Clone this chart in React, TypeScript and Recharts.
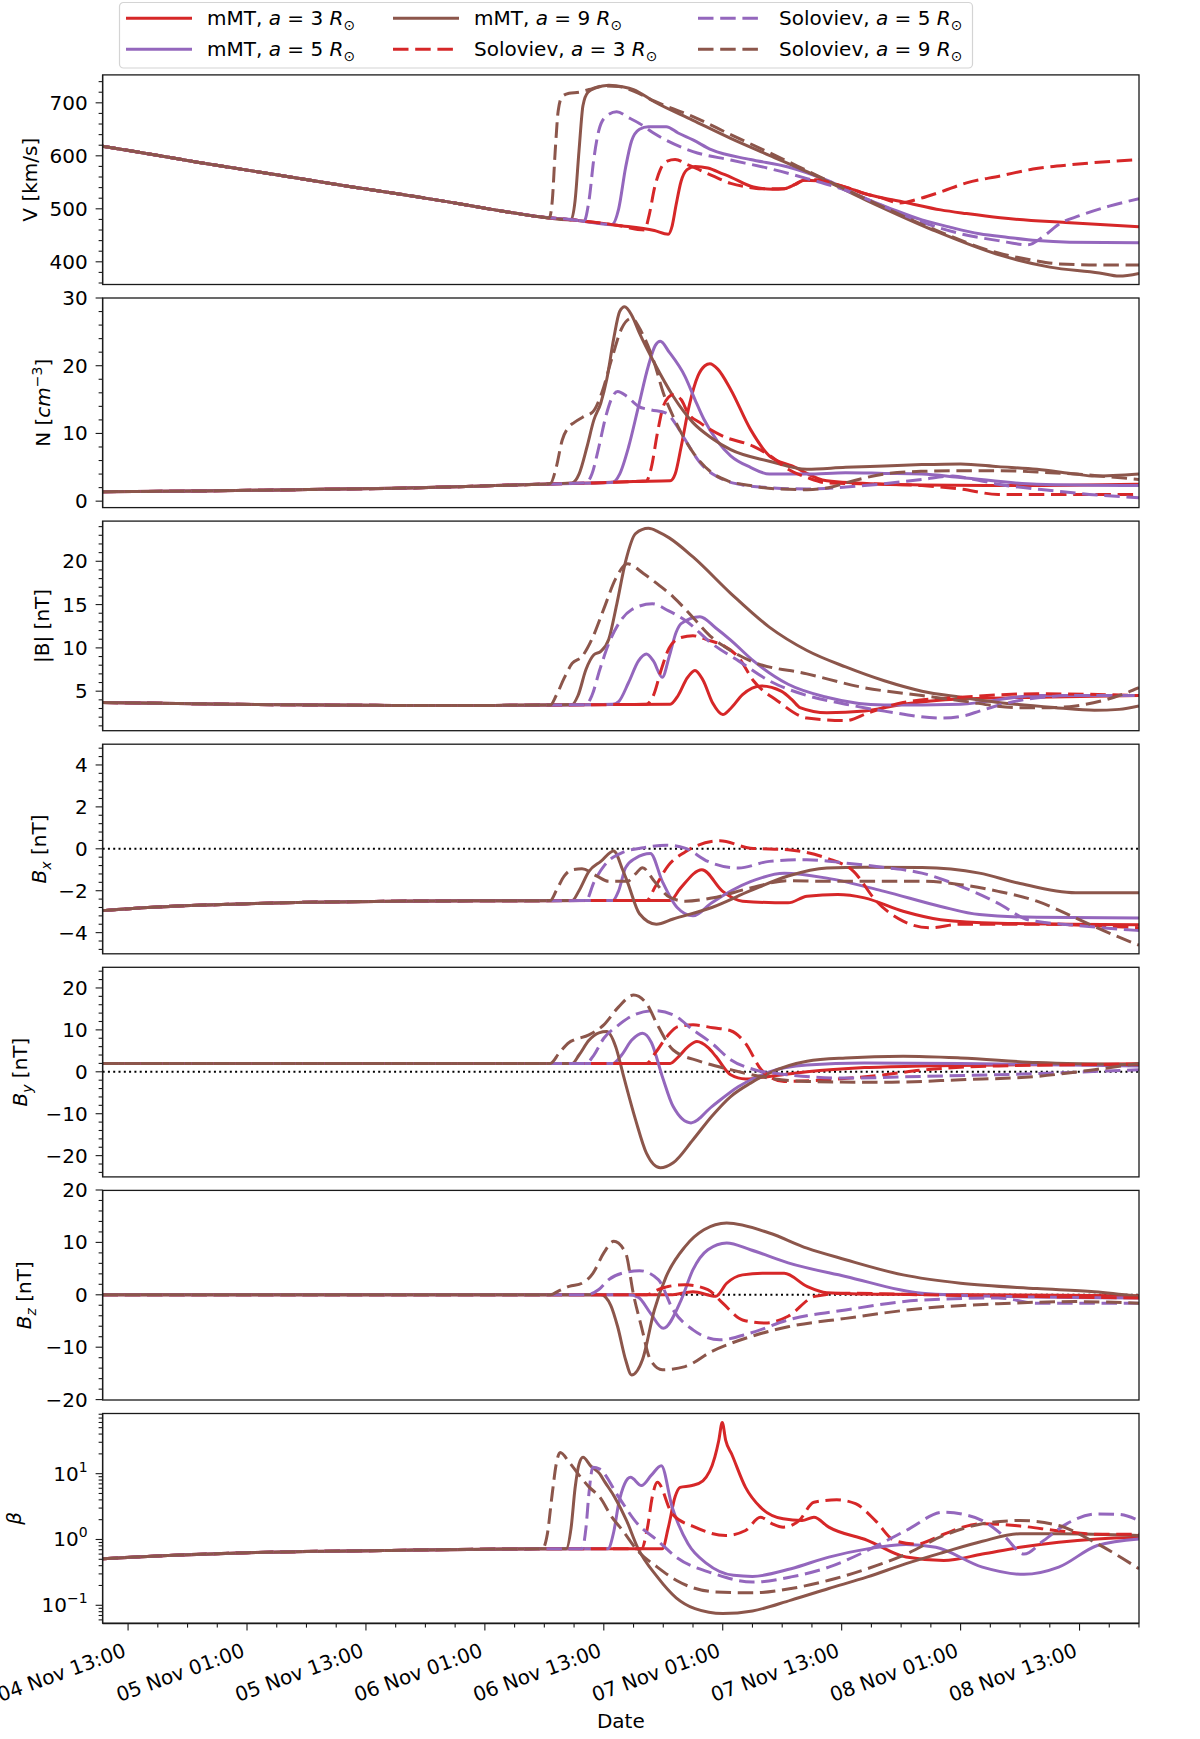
import React from 'react';
import { LineChart, Line, XAxis, YAxis, ReferenceLine } from 'recharts';

type Pt = [number, number];

const RED = '#d62728';
const PURPLE = '#9467bd';
const BROWN = '#8c564b';
const INK = '#1a1a1a';
const FONT = '"DejaVu Sans", Verdana, sans-serif';

// time axis in hours since 04 Nov 00:00
const T_START = 10.43;
const T_END = 115;
const X_MAJOR = [13, 25, 37, 49, 61, 73, 85, 97, 109];
const X_LABELS = [
  '04 Nov 13:00', '05 Nov 01:00', '05 Nov 13:00', '06 Nov 01:00', '06 Nov 13:00',
  '07 Nov 01:00', '07 Nov 13:00', '08 Nov 01:00', '08 Nov 13:00',
];

const SERIES = [
  { id: 'mmt3', model: 'mMT', a: '3', color: RED, dashed: false },
  { id: 'mmt5', model: 'mMT', a: '5', color: PURPLE, dashed: false },
  { id: 'mmt9', model: 'mMT', a: '9', color: BROWN, dashed: false },
  { id: 'sol3', model: 'Soloviev', a: '3', color: RED, dashed: true },
  { id: 'sol5', model: 'Soloviev', a: '5', color: PURPLE, dashed: true },
  { id: 'sol9', model: 'Soloviev', a: '9', color: BROWN, dashed: true },
];

// ---- V [km/s]
const V_UP: Pt[] = [[10.43,618],[15,604],[20,588],[25,573],[30,558],[35,543],[40,529],[45,514],[50,498],[54.5,485],[58.4,478],[62.3,469],[66.1,459],[67.5,452]];
const V_MMT3: Pt[] = [[67.5,452],[67.9,468],[68.3,508],[68.8,552],[69.4,574],[70.2,580],[71.5,577],[73,566],[73.8,560],[76.1,541],[78,537],[79.2,538],[80.3,546],[81.2,554],[82.5,553],[85.4,541],[87.3,529],[89.3,520],[91.2,513],[95,498],[97.6,491],[101,483],[107.6,474],[115,466]];
const V_MMT5: Pt[] = [[61.8,470],[62.5,500],[63.2,578],[63.8,628],[64.6,650],[65.5,655],[67.3,655],[68.5,643],[70,630],[71.9,611],[75.8,593],[79.6,579],[83.5,554],[87.3,520],[90,500],[93.1,479],[96,465],[98.9,453],[101.8,446],[104.7,440],[108,437],[115,436]];
const V_MMT9: Pt[] = [[57.7,479],[58.1,515],[58.5,610],[58.9,695],[59.4,720],[60.2,728],[61.5,733],[63,730],[64,725],[66.1,702],[70,667],[73.8,633],[77.7,601],[81.5,570],[87.5,516],[94.2,460],[100.9,413],[106,390],[111,379],[113,373],[115,378]];
const V_SOL3: Pt[] = [[65.1,460],[65.6,490],[66.1,538],[66.7,574],[67.4,590],[68.2,593],[69.5,583],[70.7,573],[72,562],[73.8,548],[75.5,541],[76.9,538],[79.2,538],[80.3,546],[81.2,554],[82.5,555],[83.5,551],[85.4,541],[87.3,529],[89.3,519],[90.8,511],[93,520],[95,532],[97.6,549],[101,562],[104.3,575],[108.6,584],[115,593]];
const V_SOL5: Pt[] = [[59,476],[59.5,515],[60,595],[60.5,648],[61.2,674],[62.3,683],[63.5,672],[64.6,661],[66.1,642],[70,608],[73.8,592],[77.7,576],[81.5,557],[85.4,535],[89.3,504],[93.1,475],[97,453],[100.8,440],[103.8,432],[105.5,450],[107,472],[109,487],[112,505],[115,519]];
const V_SOL9: Pt[] = [[55.5,483],[55.8,515],[56.1,610],[56.4,685],[56.8,712],[57.5,718],[58.5,720],[59.5,725],[61,732],[62.5,731],[64,722],[66,704],[70,674],[73.8,640],[77.7,606],[81.5,572],[87.5,518],[94.2,462],[100.9,416],[104,404],[107,396],[111,394],[115,394]];

// ---- N [cm^-3]
const N_UP: Pt[] = [[10.43,1.4],[20,1.5],[30,1.7],[40,1.9],[50,2.3],[54.5,2.5],[60,2.7],[64,2.9],[67.7,3.0]];
const N_MMT3: Pt[] = [[67.7,3.0],[68.2,4],[68.8,8],[69.6,14],[70.5,18.5],[71.2,20],[71.7,20.3],[72.5,19.5],[73.8,16.5],[75.8,10.6],[77.7,6.7],[80,5.2],[83.5,3.0],[89.3,2.5],[93.1,2.4],[100.8,2.3],[115,2.5]];
const N_MMT5: Pt[] = [[61.9,2.8],[62.6,4],[63.5,8],[64.5,14],[65.5,20],[66.2,23],[66.7,23.6],[67.6,22],[69.2,18.4],[70.2,15],[71.1,12.1],[72.5,8.8],[73.8,6.7],[75.8,5],[77.7,4.0],[81.5,4.0],[85.4,4.2],[89.3,4.1],[93.1,4.0],[97,3.5],[104.7,2.5],[115,2.3]];
const N_MMT9: Pt[] = [[57.8,2.7],[58.5,4],[59.3,8],[60,12],[60.7,14.5],[61.3,18],[62,24],[62.6,28],[63.1,28.7],[63.8,27.5],[64.6,24.8],[66.1,20.4],[68,15.5],[70,11.6],[71.9,9.3],[73.8,7.6],[77.7,5.9],[81.5,4.7],[85.4,5.0],[89.3,5.2],[93.1,5.4],[97,5.5],[100.8,5.1],[104.7,4.7],[108.6,4.0],[110.5,3.7],[115,4.0]];
const N_SOL3: Pt[] = [[65.3,3.0],[65.8,5],[66.4,10],[67,14],[67.5,15.3],[68,15.7],[68.8,15],[69.5,13],[70.7,11.6],[73,9.6],[76.1,8.1],[78,6.5],[79.6,4.7],[81.5,3.5],[83.5,2.7],[89.3,2.5],[93.1,2.3],[97,1.8],[100.8,1.0],[115,1.0]];
const N_SOL5: Pt[] = [[59.2,2.7],[59.8,4],[60.5,8],[61.2,12.5],[61.8,15.2],[62.4,16.2],[63.3,15.5],[64.5,14],[65.7,13.5],[67.3,13],[68.2,11.5],[69.2,9.1],[70.7,5.7],[73,3.2],[75,2.4],[77.7,2.0],[81.5,1.8],[87.3,2.3],[93.1,3.2],[96.2,3.7],[98,3.3],[100.8,2.5],[106.6,1.5],[110,1.0],[115,0.5]];
const N_SOL9: Pt[] = [[55.6,2.6],[56.2,5],[56.8,9],[57.5,11],[58,11.6],[59,12.5],[59.9,13.2],[60.8,16],[61.8,21],[62.8,25.5],[63.8,27],[64.8,25],[66.1,20.4],[67,16],[68,12.5],[70,7.2],[71.9,4.2],[73.5,3],[75.8,2.3],[78.5,1.8],[81.5,1.7],[84,2.1],[85.4,2.7],[89.3,4.0],[93,4.4],[97,4.5],[101,4.5],[104.7,4.3],[108.6,4.0],[112,3.6],[115,3.2]];

// ---- |B| [nT]
const B_UP: Pt[] = [[10.43,3.7],[20,3.55],[30,3.42],[40,3.36],[50,3.36],[55,3.4],[62,3.45],[67.7,3.5]];
const B_MMT3: Pt[] = [[67.7,3.5],[68.5,4.5],[69.4,6.5],[70.2,7.4],[71,6.3],[72,3.6],[73,2.3],[73.8,3.0],[75,4.6],[76.9,5.6],[78.9,5.0],[80,4.0],[80.8,3.1],[83.5,2.5],[87.3,2.7],[91.2,3.5],[97,4.1],[104.7,4.3],[115,4.5]];
const B_MMT5: Pt[] = [[61.9,3.5],[62.5,3.8],[63.5,6],[64.5,8.5],[65.3,9.3],[66,8.5],[66.9,6.6],[67.6,9],[68.3,11.8],[68.8,12.8],[70.7,13.6],[72.3,12.3],[73.8,10.9],[76.1,8.5],[79.6,5.8],[83.5,4.3],[89.3,3.4],[97,3.5],[104.7,4.5],[115,4.5]];
const B_MMT9: Pt[] = [[57.8,3.45],[58.4,4.5],[59.2,7.5],[60,9.2],[60.7,9.6],[61.5,11],[62.3,15],[63.2,20],[64.2,23.2],[65.5,23.8],[66.5,23.4],[67.6,22.7],[70,20.5],[73.8,16.3],[77.7,12.4],[81.5,9.7],[85.4,7.8],[89.3,6.2],[93.1,5.0],[97,4.3],[100.8,3.7],[106.6,3.1],[110.5,2.8],[113,2.9],[115,3.3]];
const B_SOL3: Pt[] = [[65.3,3.5],[66,4.5],[66.8,7.5],[67.6,10],[68.8,11.2],[70,11.4],[71.5,10.9],[73,10.3],[74.6,8.9],[76.1,6.2],[78.5,3.9],[81.5,1.9],[85.4,1.6],[87.7,2.5],[91.2,3.7],[97,4.3],[104.7,4.7],[115,4.5]];
const B_SOL5: Pt[] = [[59.2,3.45],[59.8,4.5],[60.6,7.5],[61.5,10.5],[62.5,12.8],[63.8,14.4],[65.9,15.1],[67.5,14.3],[69.2,13.2],[71.9,10.5],[74.6,8.5],[77.7,6.2],[81.5,4.5],[85.4,3.5],[89.3,2.7],[95,1.9],[97.5,2.2],[98.9,2.7],[102.8,3.9],[108.6,4.5],[115,4.5]];
const B_SOL9: Pt[] = [[55.6,3.4],[56.2,4.5],[57,6.5],[57.8,8.2],[58.8,9.0],[59.8,11],[61,14.5],[62.2,18],[63.4,19.7],[65,18.6],[66.5,17.3],[68,15.9],[70,13.5],[71.9,11.2],[73.8,9.7],[75.8,8.5],[81.5,7.0],[87.3,5.4],[93.1,4.5],[97,3.9],[102.8,3.1],[106,3.1],[108.6,3.3],[112.5,4.3],[115,5.4]];

// ---- Bx [nT]
const BX_UP: Pt[] = [[10.43,-2.95],[15,-2.8],[20,-2.69],[25,-2.62],[30,-2.56],[40,-2.5],[50,-2.48],[60,-2.47],[67.7,-2.47]];
const BX_MMT3: Pt[] = [[67.7,-2.47],[68.7,-1.9],[70.9,-1.0],[73,-2.03],[75,-2.5],[79.6,-2.58],[81.5,-2.26],[84.6,-2.18],[87.3,-2.34],[91.2,-2.98],[95,-3.38],[100.8,-3.55],[115,-3.62]];
const BX_MMT5: Pt[] = [[61.9,-2.47],[62.5,-2.0],[63.2,-0.9],[64.2,-0.45],[65.7,-0.22],[66.9,-1.55],[68.4,-2.8],[70,-3.2],[71.9,-2.57],[75.8,-1.57],[79.2,-1.17],[83.5,-1.4],[89.3,-2.03],[95,-2.75],[98.9,-3.14],[104.7,-3.27],[115,-3.3]];
const BX_MMT9: Pt[] = [[57.8,-2.47],[58.5,-2.0],[59.5,-1.08],[60.7,-0.6],[62,-0.1],[62.9,-1.0],[63.4,-1.6],[64.6,-3.1],[66.3,-3.6],[68,-3.35],[71.9,-2.8],[75.8,-2.0],[79.6,-1.3],[83.5,-0.92],[87.3,-0.88],[93.1,-0.89],[98.9,-1.16],[102.8,-1.63],[108.6,-2.1],[115,-2.1]];
const BX_SOL3: Pt[] = [[65.3,-2.47],[66.2,-1.8],[67.5,-0.8],[69.2,-0.15],[72.7,0.38],[75.8,0.03],[79.6,-0.05],[83.5,-0.45],[86.2,-1.08],[88.5,-2.5],[91.2,-3.45],[93.9,-3.77],[97,-3.6],[104.7,-3.6],[115,-3.77]];
const BX_SOL5: Pt[] = [[59.2,-2.47],[60,-1.6],[61.1,-0.77],[63,-0.15],[65,0.05],[67.3,0.17],[69.2,0.03],[71.5,-0.6],[74.6,-0.92],[77.7,-0.6],[81.5,-0.52],[85.4,-0.68],[89.3,-0.89],[93.1,-1.16],[97,-1.79],[100.8,-2.6],[103.9,-3.4],[108.6,-3.65],[115,-3.9]];
const BX_SOL9: Pt[] = [[55.6,-2.47],[56.2,-2.0],[57,-1.3],[57.8,-1.0],[58.8,-0.95],[60.3,-1.3],[61.5,-1.55],[63.4,-1.55],[64.2,-1.2],[64.9,-0.9],[66.1,-1.55],[67.6,-2.3],[69.2,-2.5],[71.9,-2.35],[75.8,-1.87],[79.6,-1.52],[83.5,-1.55],[89.3,-1.55],[93.1,-1.55],[97,-1.71],[100.8,-2.03],[104.7,-2.5],[108.6,-3.3],[112.4,-4.1],[115,-4.6]];

// ---- By [nT]
const BY_UP: Pt[] = [[10.43,1.95],[40,1.95],[67.7,2.0]];
const BY_MMT3: Pt[] = [[67.7,2.0],[68.5,3.5],[69.5,6],[70.4,7.2],[71.5,5.8],[72.3,3.7],[73.8,-0.7],[75.3,-1.7],[77.7,-1.1],[81.5,0.0],[87.3,1.0],[93.1,1.4],[104.7,1.7],[115,1.9]];
const BY_MMT5: Pt[] = [[61.9,2.0],[62.8,4],[63.8,7.5],[64.9,9.2],[65.8,7],[66.9,-1.1],[68,-8.3],[69.8,-12.2],[71.9,-8.3],[74.6,-3.5],[77.7,0],[81.5,1.6],[87.3,2.1],[97,2.0],[115,1.4]];
const BY_MMT9: Pt[] = [[57.8,2.0],[58.5,4],[59.5,7.5],[60.5,9.3],[61.3,9.6],[62.2,6],[63,-1.1],[64.2,-11.4],[65.3,-19.4],[66.7,-22.9],[68,-21.7],[70,-16.2],[71.9,-10.6],[73.8,-5.9],[75.8,-2.7],[77.7,-0.3],[81.5,2.5],[85.4,3.3],[91.2,3.7],[97,3.3],[104.7,2.2],[115,1.7]];
const BY_SOL3: Pt[] = [[65.3,2.0],[66.2,4.5],[67.4,8.5],[68.5,10.8],[70,11.2],[72,10.5],[73.8,9.8],[75.3,6.8],[76.9,0.5],[79.2,-2.3],[83.5,-1.9],[89.3,-0.7],[93.1,0.4],[100.8,1.4],[115,1.8]];
const BY_SOL5: Pt[] = [[59.2,2.0],[60,4],[61,8],[62.3,10.8],[64,13.5],[66.1,14.6],[68,13.6],[70,10],[71.9,6.8],[73.8,2.9],[76.2,0.5],[79.6,-0.7],[85.4,-1.5],[93.1,-1.1],[100.8,-0.7],[115,0.5]];
const BY_SOL9: Pt[] = [[55.6,2.0],[56.5,4.5],[57.5,7.0],[58,7.6],[59.5,8.8],[61,11.2],[62.5,15.5],[64,18.3],[65.3,16.3],[66.5,10.8],[68,5.2],[70.7,2.5],[73.8,0.5],[77.7,-1.5],[81.5,-2.3],[89.3,-2.5],[97,-1.9],[104.7,-1.1],[110.5,0.5],[115,2.0]];

// ---- Bz [nT]
const BZ_UP: Pt[] = [[10.43,0],[40,0],[67.7,0]];
const BZ_MMT3: Pt[] = [[67.7,0],[70,0.6],[72.3,-0.3],[73.4,2.2],[75,3.8],[77,4.1],[79.2,4.1],[81.5,1.6],[83.5,0.4],[89.3,0.1],[115,-0.2]];
const BZ_MMT5: Pt[] = [[63.5,0],[64.5,-0.5],[65.7,-3.5],[67,-6.4],[68.8,-1.0],[70,4.8],[71.5,8.6],[73.4,9.9],[75.8,8.6],[79.6,6.1],[85.4,3.5],[93.1,0.3],[100.8,-0.3],[115,-0.6]];
const BZ_MMT9: Pt[] = [[60.7,0],[61.7,-2],[62.4,-6.1],[63.2,-12.4],[63.8,-15.3],[64.9,-12.4],[66.1,-2.9],[67.3,3.5],[69.2,9.2],[71.1,12.4],[73.4,13.7],[77.7,11.8],[81.5,8.9],[85.4,6.7],[91.2,3.8],[97,2.2],[104.7,1.2],[110.5,0.6],[115,-0.3]];
const BZ_SOL3: Pt[] = [[65.3,0],[66.5,1.0],[67.5,1.6],[69.2,1.9],[71.5,1.0],[73,-1.6],[75,-4.8],[77.3,-5.4],[79.6,-4.1],[82.3,-0.3],[85.4,0.3],[93.1,0],[115,-0.6]];
const BZ_SOL5: Pt[] = [[59.2,0],[60.5,1],[61.5,2.9],[63,4.2],[64.6,4.6],[66.5,2.9],[68,-2.9],[70,-6.7],[72.7,-8.6],[75.8,-7.3],[79.6,-4.8],[85.4,-2.9],[93.1,-1.0],[100.8,-0.6],[104.7,-1.6],[115,-1.6]];
const BZ_SOL9: Pt[] = [[55.6,0],[56.5,0.8],[57.5,1.6],[58.8,2.2],[59.9,4.1],[61,8],[62,10.2],[63.2,8],[64,0],[64.8,-6.1],[65.7,-12.4],[66.9,-14.3],[69.2,-13.7],[71.9,-10.8],[75.8,-8.0],[79.6,-6.1],[85.4,-4.5],[93.1,-2.6],[100.8,-1.7],[108.6,-1.3],[115,-1.6]];

// ---- plasma beta
const BETA_UP: Pt[] = [[10.43,0.51],[17,0.57],[25,0.63],[38.8,0.68],[54.3,0.72],[68.5,0.73]];
const BETA_MMT3: Pt[] = [[66.9,0.72],[67.5,1.5],[68.2,4.5],[68.7,6.2],[69.9,6.6],[71,7.8],[72.2,17.8],[72.6,32],[72.95,60],[73.3,32],[73.9,19.9],[75.3,6.2],[76.8,3.1],[79.1,2.06],[81,1.94],[82.2,2.18],[83.7,1.54],[87.6,0.97],[91.5,0.54],[95.3,0.48],[99.2,0.6],[103,0.76],[106.9,0.91],[110.8,1.02],[115,1.08]];
const BETA_MMT5: Pt[] = [[61.4,0.72],[62,1.3],[62.5,3.5],[63.1,7],[63.7,8.8],[64.8,6.6],[65.8,9.5],[66.8,13.2],[67.9,3.1],[69.5,0.86],[71.4,0.43],[74.1,0.285],[76,0.275],[79.9,0.36],[83.7,0.54],[87.6,0.72],[91.5,0.84],[94.5,0.76],[99.2,0.38],[103.4,0.295],[106.9,0.38],[110.8,0.81],[115,1.02]];
const BETA_MMT9: Pt[] = [[57.2,0.72],[57.7,1.5],[58.1,6],[58.5,14],[58.9,17.7],[59.7,13],[60.6,9.9],[61.1,7.5],[62.1,4.4],[63.3,1.94],[64.4,0.76],[66.4,0.27],[68.3,0.13],[70.2,0.089],[73,0.075],[76,0.082],[79.9,0.12],[83.7,0.18],[87.6,0.27],[91.5,0.43],[95.3,0.64],[99.2,0.94],[103,1.22],[107,1.22],[115,1.15]];
const BETA_SOL3: Pt[] = [[64.8,0.72],[65.4,1.5],[65.9,4.5],[66.4,7.4],[67.9,2.45],[70.2,1.54],[73.3,1.15],[75.3,1.37],[76.8,2.18],[78,1.73],[79.1,1.54],[80.7,1.94],[82.2,3.68],[84.5,4.0],[86.4,3.5],[88.4,1.94],[90.3,0.97],[92.5,0.85],[95.3,1.2],[97.3,1.55],[99.2,1.74],[103,1.6],[107,1.35],[110.8,1.2],[115,1.2]];
const BETA_SOL5: Pt[] = [[58.8,0.72],[59.2,1.5],[59.5,5],[59.9,12.5],[60.6,11.7],[62.5,4.4],[64.4,1.73],[66.4,0.97],[68.3,0.54],[72.2,0.3],[76,0.225],[79.9,0.27],[83.7,0.38],[87.6,0.68],[91.5,1.37],[95.3,2.6],[97.3,2.4],[99.2,1.94],[101.5,1.08],[103.4,0.6],[105.4,0.97],[107.7,1.73],[110.8,2.45],[113,2.4],[115,1.94]];
const BETA_SOL9: Pt[] = [[54.8,0.72],[55.3,1.2],[55.8,5],[56.2,14],[56.6,21],[57.5,15],[58.5,9.5],[59.5,6.3],[60.6,4.4],[61.8,2.2],[62.9,1.37],[64.4,0.68],[66.4,0.38],[68.3,0.24],[72.2,0.16],[76,0.155],[79.9,0.18],[83.7,0.24],[87.6,0.36],[91.5,0.6],[95.3,1.15],[99.2,1.73],[103,1.94],[106.9,1.63],[110.8,0.86],[115,0.36]];

// ---- axes
const V_TICKS = [400, 500, 600, 700];
const N_TICKS = [0, 10, 20, 30];
const B_TICKS = [5, 10, 15, 20];
const BX_TICKS = [-4, -2, 0, 2, 4];
const BY_TICKS = [-20, -10, 0, 10, 20];
const BZ_TICKS = [-20, -10, 0, 10, 20];
const BETA_TICKS = [0.1, 1, 10];
const BETA_MINOR = [0.06, 0.07, 0.08, 0.09, 0.2, 0.3, 0.4, 0.5, 0.6, 0.7, 0.8, 0.9, 2, 3, 4, 5, 6, 7, 8, 9, 20, 30, 40, 50, 60, 70, 80];

const PANEL_TOP0 = 74.9;
const PANEL_STEP = 223.1;
const PH = 209.6;
const PLOT_LEFT = 102.6;
const PLOT_RIGHT = 1139;
const MT = 14;
const MB = 14;
const XH = 116;

const range = (lo: number, hi: number, step: number) => {
  const out: number[] = [];
  for (let v = Math.ceil(lo / step - 1e-9) * step; v <= hi + 1e-9; v += step) out.push(Math.round(v * 1000) / 1000);
  return out;
};

const PANELS = [
  { id: 'v', up: V_UP, runs: [V_MMT3, V_MMT5, V_MMT9, V_SOL3, V_SOL5, V_SOL9], domain: [357, 752.5], major: V_TICKS, minor: range(357, 752.5, 20), zero: false, labelX: 36.7 },
  { id: 'n', up: N_UP, runs: [N_MMT3, N_MMT5, N_MMT9, N_SOL3, N_SOL5, N_SOL9], domain: [-0.95, 30], major: N_TICKS, minor: range(-0.95, 30, 2), zero: false, labelX: 50 },
  { id: 'b', up: B_UP, runs: [B_MMT3, B_MMT5, B_MMT9, B_SOL3, B_SOL5, B_SOL9], domain: [0.45, 24.65], major: B_TICKS, minor: range(0.45, 24.65, 1), zero: false, labelX: 49 },
  { id: 'bx', up: BX_UP, runs: [BX_MMT3, BX_MMT5, BX_MMT9, BX_SOL3, BX_SOL5, BX_SOL9], domain: [-5, 5], major: BX_TICKS, minor: range(-5, 5, 0.4), zero: true, labelX: 46 },
  { id: 'by', up: BY_UP, runs: [BY_MMT3, BY_MMT5, BY_MMT9, BY_SOL3, BY_SOL5, BY_SOL9], domain: [-25, 25], major: BY_TICKS, minor: range(-25, 25, 2), zero: true, labelX: 27 },
  { id: 'bz', up: BZ_UP, runs: [BZ_MMT3, BZ_MMT5, BZ_MMT9, BZ_SOL3, BZ_SOL5, BZ_SOL9], domain: [-20, 20], major: BZ_TICKS, minor: range(-20, 20, 2), zero: true, labelX: 31 },
  { id: 'beta', up: BETA_UP, runs: [BETA_MMT3, BETA_MMT5, BETA_MMT9, BETA_SOL3, BETA_SOL5, BETA_SOL9], domain: [0.0527, 80.7], major: BETA_TICKS, minor: BETA_MINOR, zero: false, labelX: 21, log: true },
];

const build = (up: Pt[], run: Pt[]) => {
  const start = run[0][0];
  return [...up.filter((p) => p[0] < start - 0.3), ...run].map(([t, v]) => ({ t, v }));
};

const allTicks = (major: number[], minor: number[]) =>
  [...major, ...minor.filter((m) => !major.some((v) => Math.abs(v - m) < 1e-6))].sort((a, b) => a - b);

const minus = (v: number) => (v < 0 ? `\u2212${Math.abs(v)}` : String(v));

const YTick = (props: any) => {
  const { x, y, payload, majors, log } = props;
  const v = payload.value;
  const isMajor = majors.some((m: number) => Math.abs(m - v) < 1e-6);
  let label: React.ReactNode = null;
  if (isMajor) {
    if (log) {
      const e = Math.round(Math.log10(v));
      label = (
        <text x={x - 15} y={y + 7} textAnchor="end" fontFamily={FONT} fontSize={20} fill="#000">
          10<tspan dy={-9} fontSize={14}>{minus(e)}</tspan>
        </text>
      );
    } else {
      label = (
        <text x={x - 15} y={y + 7} textAnchor="end" fontFamily={FONT} fontSize={20} fill="#000">
          {minus(v)}
        </text>
      );
    }
  }
  return (
    <g>
      <line x1={x - (isMajor ? 7 : 4)} x2={x} y1={y} y2={y} stroke={INK} strokeWidth={1.1} />
      {label}
    </g>
  );
};

const XTick = (props: any) => {
  const { x, y, payload } = props;
  const idx = X_MAJOR.indexOf(payload.value);
  const major = idx >= 0;
  const ax = x - 1;
  const ay = y + 32.4;
  return (
    <g>
      <line x1={x} x2={x} y1={y} y2={y + (major ? 7 : 4)} stroke={INK} strokeWidth={1.1} />
      {major && (
        <text x={ax} y={ay} textAnchor="end" transform={`rotate(-20 ${ax} ${ay})`} fontFamily={FONT} fontSize={20} fill="#000">
          {X_LABELS[idx]}
        </text>
      )}
    </g>
  );
};

// every 3 hours from the first labelled tick
const X_TICKS: number[] = [];
for (let t = X_MAJOR[0]; t <= T_END; t += 3) X_TICKS.push(t);

const Panel = ({ p, index, last }: any) => {
  const top = PANEL_TOP0 + index * PANEL_STEP;
  const height = MT + PH + (last ? XH : MB);
  const axisLine = { stroke: INK, strokeWidth: 1.3 };
  return (
    <div style={{ position: 'absolute', left: 0, top: top - MT }}>
      <LineChart width={1200} height={height} margin={{ top: MT, right: 1200 - PLOT_RIGHT, bottom: last ? 0 : MB, left: 0 }}>
        <XAxis
          type="number"
          dataKey="t"
          domain={[T_START, T_END]}
          allowDataOverflow
          ticks={last ? X_TICKS : []}
          interval={0}
          tick={last ? <XTick /> : false}
          tickLine={false}
          tickSize={0}
          tickMargin={0}
          height={last ? XH : 0}
          axisLine={axisLine}
        />
        <YAxis
          type="number"
          scale={p.log ? 'log' : 'auto'}
          domain={p.domain}
          allowDataOverflow
          ticks={allTicks(p.major, p.minor)}
          interval={0}
          tick={<YTick majors={p.major} log={!!p.log} />}
          tickLine={false}
          tickSize={0}
          tickMargin={0}
          width={PLOT_LEFT}
          axisLine={axisLine}
        />
        {p.zero && <ReferenceLine y={0} stroke="#000" strokeWidth={2} strokeDasharray="2 3.3" />}
        {SERIES.map((s, i) => (
          <Line
            key={s.id}
            data={build(p.up, p.runs[i])}
            dataKey="v"
            type="monotone"
            stroke={s.color}
            strokeWidth={3}
            strokeDasharray={s.dashed ? '15.5 6.7' : undefined}
            dot={false}
            activeDot={false}
            isAnimationActive={false}
          />
        ))}
      </LineChart>
    </div>
  );
};

const YLabel = ({ id }: { id: string }) => {
  const sub = (c: string) => (
    <>
      <tspan fontStyle="italic">B</tspan>
      <tspan fontStyle="italic" fontSize={14} dy={5}>{c}</tspan>
      <tspan dy={-5}> [nT]</tspan>
    </>
  );
  switch (id) {
    case 'v':
      return <>V [km/s]</>;
    case 'n':
      return (
        <>
          N [<tspan fontStyle="italic">cm</tspan>
          <tspan fontSize={14} dy={-8}>{'\u22123'}</tspan>
          <tspan dy={8}>]</tspan>
        </>
      );
    case 'b':
      return <>|B| [nT]</>;
    case 'bx':
      return sub('x');
    case 'by':
      return sub('y');
    case 'bz':
      return sub('z');
    default:
      return <tspan fontStyle="italic">β</tspan>;
  }
};

const LEG_COL_X = [126, 393, 698];
const LEG_ROW_Y = [18.3, 49.3];

const Overlay = () => (
  <svg width={1200} height={1739} style={{ position: 'absolute', left: 0, top: 0, pointerEvents: 'none' }}>
    <rect x={119.5} y={2.5} width={853} height={65.5} rx={4} fill="#fff" stroke="#d4d4d4" strokeWidth={1.2} />
    {SERIES.map((s, i) => {
      const cx = LEG_COL_X[Math.floor(i / 2)];
      const cy = LEG_ROW_Y[i % 2];
      return (
        <g key={s.id}>
          <line x1={cx} x2={cx + 66} y1={cy} y2={cy} stroke={s.color} strokeWidth={3} strokeDasharray={s.dashed ? '15.5 6.7' : undefined} />
          <text x={cx + 81} y={cy + 7} fontFamily={FONT} fontSize={20} fill="#000">
            {s.model}, <tspan fontStyle="italic">a</tspan> = {s.a} <tspan fontStyle="italic">R</tspan>
            <tspan fontSize={14} dy={5}>{'\u2299'}</tspan>
          </text>
        </g>
      );
    })}
    {PANELS.map((p, i) => {
      const top = PANEL_TOP0 + i * PANEL_STEP;
      const cy = top + PH / 2;
      return (
        <g key={p.id}>
          <rect x={PLOT_LEFT} y={top} width={PLOT_RIGHT - PLOT_LEFT} height={PH} fill="none" stroke={INK} strokeWidth={1.3} />
          <text x={p.labelX} y={cy} transform={`rotate(-90 ${p.labelX} ${cy})`} textAnchor="middle" fontFamily={FONT} fontSize={20} fill="#000">
            <YLabel id={p.id} />
          </text>
        </g>
      );
    })}
    <text x={(PLOT_LEFT + PLOT_RIGHT) / 2} y={1728} textAnchor="middle" fontFamily={FONT} fontSize={20} fill="#000">
      Date
    </text>
  </svg>
);

export default function App() {
  return (
    <div style={{ position: 'absolute', left: 0, top: 0, width: 1200, height: 1739, background: '#fff', overflow: 'hidden' }}>
      {PANELS.map((p, i) => (
        <Panel key={p.id} p={p} index={i} last={i === PANELS.length - 1} />
      ))}
      <Overlay />
    </div>
  );
}
